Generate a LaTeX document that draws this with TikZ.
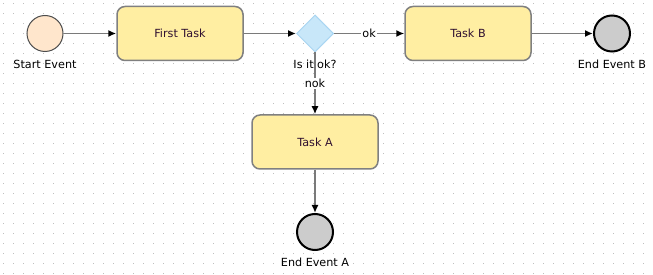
\documentclass[tikz,border=0pt]{standalone}
\usepackage{fontspec}
\setmainfont{DejaVu Sans}
\usepackage{tikz}
\usetikzlibrary{arrows.meta,shapes.geometric}
\definecolor{taskfill}{HTML}{FFEEA2}
\definecolor{taskdraw}{HTML}{808080}
\definecolor{startfill}{HTML}{FFE6CC}
\definecolor{gatefill}{HTML}{C8E7F9}
\definecolor{gatedraw}{HTML}{A9D5F2}
\definecolor{endfill}{HTML}{CCCCCC}
\definecolor{flowline}{HTML}{7A7A7A}
\definecolor{tasktext}{HTML}{301030}
\definecolor{griddot}{HTML}{BEBEBE}

\begin{document}
\begin{tikzpicture}[x=1pt, y=-1pt,
    font=\fontsize{11.2}{13}\selectfont,
    task/.style={draw=taskdraw, fill=taskfill, line width=1.5pt, rounded corners=8pt,
        minimum width=126pt, minimum height=54pt, text=tasktext, inner sep=0pt},
    startev/.style={circle, draw=black!70, fill=startfill, line width=1pt, minimum size=36pt, inner sep=0pt},
    endev/.style={circle, draw=black, fill=endfill, line width=2pt, minimum size=36pt, inner sep=0pt},
    gateway/.style={diamond, draw=gatedraw, fill=gatefill, line width=1pt, minimum width=37pt,
        minimum height=37pt, inner sep=0pt, shape aspect=1},
    flow/.style={draw=flowline, line width=1.6pt, -{Latex[length=8pt, width=7pt, black]}},
    lbl/.style={inner sep=1pt},
    flowlbl/.style={fill=white, inner sep=1pt, text=black}]
    \useasboundingbox (0,0) rectangle (653,275);
    \fill[white] (0,0) rectangle (653,275);
    \foreach \y in {3,13,...,273}
        \draw[griddot, line width=0.8pt, dash pattern=on 0.8pt off 9.2pt] (3,\y) -- (653,\y);

    \node[startev] (start) at (45,33.5) {};
    \node[task] (first) at (180,33.5) {First Task};
    \node[gateway] (gate) at (315,33.5) {};
    \node[task] (taskb) at (468,33.5) {Task B};
    \node[endev] (endb) at (612,33.5) {};
    \node[task] (taska) at (315,142) {Task A};
    \node[endev] (enda) at (315,232) {};

    \node[lbl] (lstart) at (45,64) {Start Event};
    \node[lbl] (lgate) at (315,64) {Is it ok?};
    \node[lbl] (lendb) at (612,64) {End Event B};
    \node[lbl] (lenda) at (315,262) {End Event A};

    \draw[flow] (start) -- (first);
    \draw[flow] (first.east) -- (gate.west);
    \draw[flow] (gate.east) -- node[flowlbl] (lok) {ok} (taskb.west);
    \draw[flow] (taskb.east) -- (endb);
    \draw[flow] (gate.south) -- node[flowlbl, pos=0.5] (lnok) {nok} (taska.north);
    \draw[flow] (taska.south) -- (enda.north);
\end{tikzpicture}
\end{document}
